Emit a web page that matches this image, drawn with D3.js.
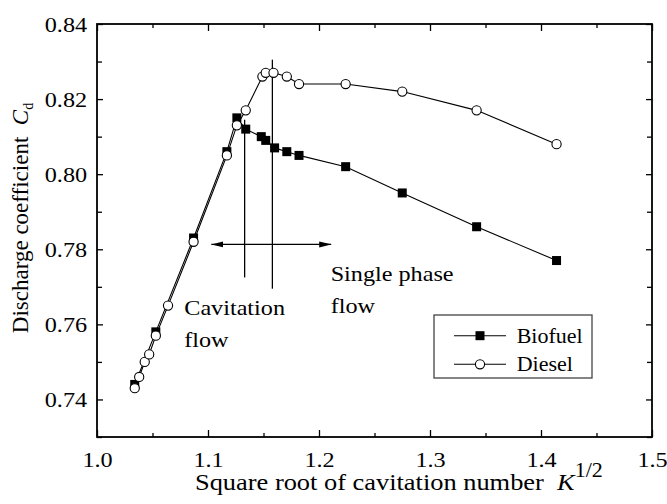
<!DOCTYPE html>
<html>
<head>
<meta charset="utf-8">
<script src="https://cdn.jsdelivr.net/npm/d3@7"></script>
<style>
  body { margin: 0; background: #fff; }
  text { font-family: "Liberation Serif", "Times New Roman", serif; fill: #000; }
</style>
</head>
<body>
<div id="chart"></div>
<script>
// data
var biofuelK  = [1.034, 1.053, 1.087, 1.117, 1.126, 1.134, 1.148, 1.152, 1.160, 1.171, 1.182, 1.224, 1.275, 1.342, 1.414];
var biofuelCd = [0.744, 0.758, 0.783, 0.806, 0.815, 0.812, 0.810, 0.809, 0.807, 0.806, 0.805, 0.802, 0.795, 0.786, 0.777];
var dieselK   = [1.034, 1.038, 1.043, 1.047, 1.053, 1.064, 1.087, 1.117, 1.126, 1.134, 1.149, 1.152, 1.159, 1.171, 1.182, 1.224, 1.275, 1.342, 1.414];
var dieselCd  = [0.743, 0.746, 0.750, 0.752, 0.757, 0.765, 0.782, 0.805, 0.813, 0.817, 0.826, 0.827, 0.827, 0.826, 0.824, 0.824, 0.822, 0.817, 0.808];

var seriesNames = ["Biofuel", "Diesel"];
var xMajor = [1.0, 1.1, 1.2, 1.3, 1.4, 1.5];
var xMinor = [1.05, 1.15, 1.25, 1.35, 1.45];
var yMajor = [0.74, 0.76, 0.78, 0.80, 0.82, 0.84];
var yMinor = [0.73, 0.75, 0.77, 0.79, 0.81, 0.83];

// regime markers: vertical lines (K, top Cd, bottom Cd) and the double arrow
var dividerK      = [1.133, 1.158];
var dividerTop    = [0.8145, 0.8305];
var dividerBottom = [0.7725, 0.7695];
var arrowK  = [1.103, 1.211];
var arrowCd = 0.7813;
var regimeText = [
  {lines: ["Cavitation", "flow"], k: 1.0786, cd: [0.7624, 0.7540]},
  {lines: ["Single phase", "flow"], k: 1.2105, cd: [0.7715, 0.7629]}
];

var margin = {top: 24, right: 15, bottom: 67, left: 97},
    width = 667 - margin.left - margin.right,
    height = 504 - margin.top - margin.bottom;
var sx = 1.1; // the source figure's lettering is slightly wide

var svg = d3.select("#chart")
  .append("svg")
    .attr("width", 667)
    .attr("height", 504)
  .append("g")
    .attr("transform", "translate(" + margin.left + "," + margin.top + ")");

var x = d3.scaleLinear().domain([1.0, 1.5]).range([0, width]);
var y = d3.scaleLinear().domain([0.73, 0.84]).range([height, 0]);

function axisStyle(g) {
  g.select(".domain").remove();
  g.selectAll("line").attr("stroke", "#000").attr("stroke-width", 1.3);
}

// bottom axis, major with labels
svg.append("g")
  .attr("transform", "translate(0," + height + ")")
  .call(d3.axisBottom(x).tickValues(xMajor).tickFormat(d3.format(".1f"))
    .tickSizeInner(-7).tickSizeOuter(0).tickPadding(14))
  .call(axisStyle)
  .selectAll("text")
    .attr("font-size", 22)
    .attr("transform", "scale(" + sx + ",1)");
svg.append("g")
  .attr("transform", "translate(0," + height + ")")
  .call(d3.axisBottom(x).tickValues(xMinor).tickFormat("").tickSizeInner(-4).tickSizeOuter(0))
  .call(axisStyle);

// top axis, mirrored ticks
svg.append("g")
  .call(d3.axisTop(x).tickValues(xMajor).tickFormat("").tickSizeInner(-7).tickSizeOuter(0))
  .call(axisStyle);
svg.append("g")
  .call(d3.axisTop(x).tickValues(xMinor).tickFormat("").tickSizeInner(-4).tickSizeOuter(0))
  .call(axisStyle);

// left axis
svg.append("g")
  .call(d3.axisLeft(y).tickValues(yMajor).tickFormat(d3.format(".2f"))
    .tickSizeInner(-6).tickSizeOuter(0).tickPadding(9))
  .call(axisStyle)
  .selectAll("text")
    .attr("font-size", 22)
    .attr("transform", "scale(" + sx + ",1)");
svg.append("g")
  .call(d3.axisLeft(y).tickValues(yMinor).tickFormat("").tickSizeInner(-5).tickSizeOuter(0))
  .call(axisStyle);

// right axis
svg.append("g")
  .attr("transform", "translate(" + width + ",0)")
  .call(d3.axisRight(y).tickValues(yMajor).tickFormat("").tickSizeInner(-6).tickSizeOuter(0))
  .call(axisStyle);
svg.append("g")
  .attr("transform", "translate(" + width + ",0)")
  .call(d3.axisRight(y).tickValues(yMinor).tickFormat("").tickSizeInner(-5).tickSizeOuter(0))
  .call(axisStyle);

// frame
svg.append("rect")
  .attr("width", width)
  .attr("height", height)
  .attr("fill", "none")
  .attr("stroke", "#000")
  .attr("stroke-width", 1.8);

// axis titles
var xt = svg.append("g")
  .attr("transform", "translate(" + (195 - margin.left) + "," + (490 - margin.top) + ") scale(" + sx + ",1)")
  .append("text")
    .attr("font-size", 24);
xt.append("tspan").text("Square root of cavitation number\u00a0\u00a0");
xt.append("tspan").attr("font-style", "italic").text("K");
xt.append("tspan").attr("font-size", 20).attr("dy", -13).text("1/2");

var yt = svg.append("text")
  .attr("transform", "translate(" + (28 - margin.left) + "," + (218 - margin.top) + ") rotate(-90)")
  .attr("text-anchor", "middle")
  .attr("font-size", 23);
yt.append("tspan").text("Discharge coefficient\u00a0\u00a0");
yt.append("tspan").attr("font-style", "italic").text("C");
yt.append("tspan").attr("font-size", 14).attr("dy", 5).text("d");

// regime dividers
svg.selectAll(".divider")
  .data(dividerK)
  .enter().append("line")
    .attr("class", "divider")
    .attr("x1", function(d) { return x(d); })
    .attr("x2", function(d) { return x(d); })
    .attr("y1", function(d, i) { return y(dividerTop[i]); })
    .attr("y2", function(d, i) { return y(dividerBottom[i]); })
    .attr("stroke", "#000")
    .attr("stroke-width", 1.3);

// double-headed arrow
var defs = svg.append("defs");
defs.append("marker")
  .attr("id", "head")
  .attr("viewBox", "0 0 12 8")
  .attr("refX", 12)
  .attr("refY", 4)
  .attr("markerWidth", 12)
  .attr("markerHeight", 8)
  .attr("markerUnits", "userSpaceOnUse")
  .attr("orient", "auto-start-reverse")
  .append("path")
    .attr("d", "M0,1 L12,4 L0,7 Z")
    .attr("fill", "#000");

svg.append("line")
  .attr("x1", x(arrowK[0]))
  .attr("x2", x(arrowK[1]))
  .attr("y1", y(arrowCd))
  .attr("y2", y(arrowCd))
  .attr("stroke", "#000")
  .attr("stroke-width", 1.3)
  .attr("marker-start", "url(#head)")
  .attr("marker-end", "url(#head)");

// regime labels
regimeText.forEach(function(r) {
  r.lines.forEach(function(t, i) {
    svg.append("g")
      .attr("transform", "translate(" + x(r.k) + "," + y(r.cd[i]) + ") scale(" + sx + ",1)")
      .append("text")
        .attr("font-size", 22)
        .text(t);
  });
});

// series
var biofuel = biofuelK.map(function(k, i) { return {k: k, cd: biofuelCd[i]}; });
var diesel = dieselK.map(function(k, i) { return {k: k, cd: dieselCd[i]}; });

var line = d3.line()
  .x(function(d) { return x(d.k); })
  .y(function(d) { return y(d.cd); });

[biofuel, diesel].forEach(function(data) {
  svg.append("path")
    .datum(data)
    .attr("fill", "none")
    .attr("stroke", "#000")
    .attr("stroke-width", 1.1)
    .attr("d", line);
});

svg.selectAll(".bio")
  .data(biofuel)
  .enter().append("rect")
    .attr("class", "bio")
    .attr("x", function(d) { return x(d.k) - 4.5; })
    .attr("y", function(d) { return y(d.cd) - 4.5; })
    .attr("width", 9)
    .attr("height", 9)
    .attr("fill", "#000");

svg.selectAll(".die")
  .data(diesel)
  .enter().append("circle")
    .attr("class", "die")
    .attr("cx", function(d) { return x(d.k); })
    .attr("cy", function(d) { return y(d.cd); })
    .attr("r", 4.6)
    .attr("fill", "#fff")
    .attr("stroke", "#000")
    .attr("stroke-width", 1.1);

// legend
var legend = svg.append("g")
  .attr("transform", "translate(" + (434 - margin.left) + "," + (315 - margin.top) + ")");
legend.append("rect")
  .attr("width", 158)
  .attr("height", 63)
  .attr("fill", "#fff")
  .attr("stroke", "#444")
  .attr("stroke-width", 1.3);

var row = legend.selectAll(".row")
  .data(seriesNames)
  .enter().append("g")
    .attr("class", "row")
    .attr("transform", function(d, i) { return "translate(0," + (20.7 + i * 28.6) + ")"; });
row.append("line")
  .attr("x1", 20).attr("x2", 72)
  .attr("stroke", "#000").attr("stroke-width", 1.1);
row.filter(function(d, i) { return i === 0; })
  .append("rect")
    .attr("x", 41.5).attr("y", -4.5).attr("width", 9).attr("height", 9)
    .attr("fill", "#000");
row.filter(function(d, i) { return i === 1; })
  .append("circle")
    .attr("cx", 46).attr("r", 4.6)
    .attr("fill", "#fff").attr("stroke", "#000").attr("stroke-width", 1.1);
row.append("g")
  .attr("transform", "translate(82.7,7) scale(" + sx + ",1)")
  .append("text")
    .attr("font-size", 20)
    .text(function(d) { return d; });
</script>
</body>
</html>
